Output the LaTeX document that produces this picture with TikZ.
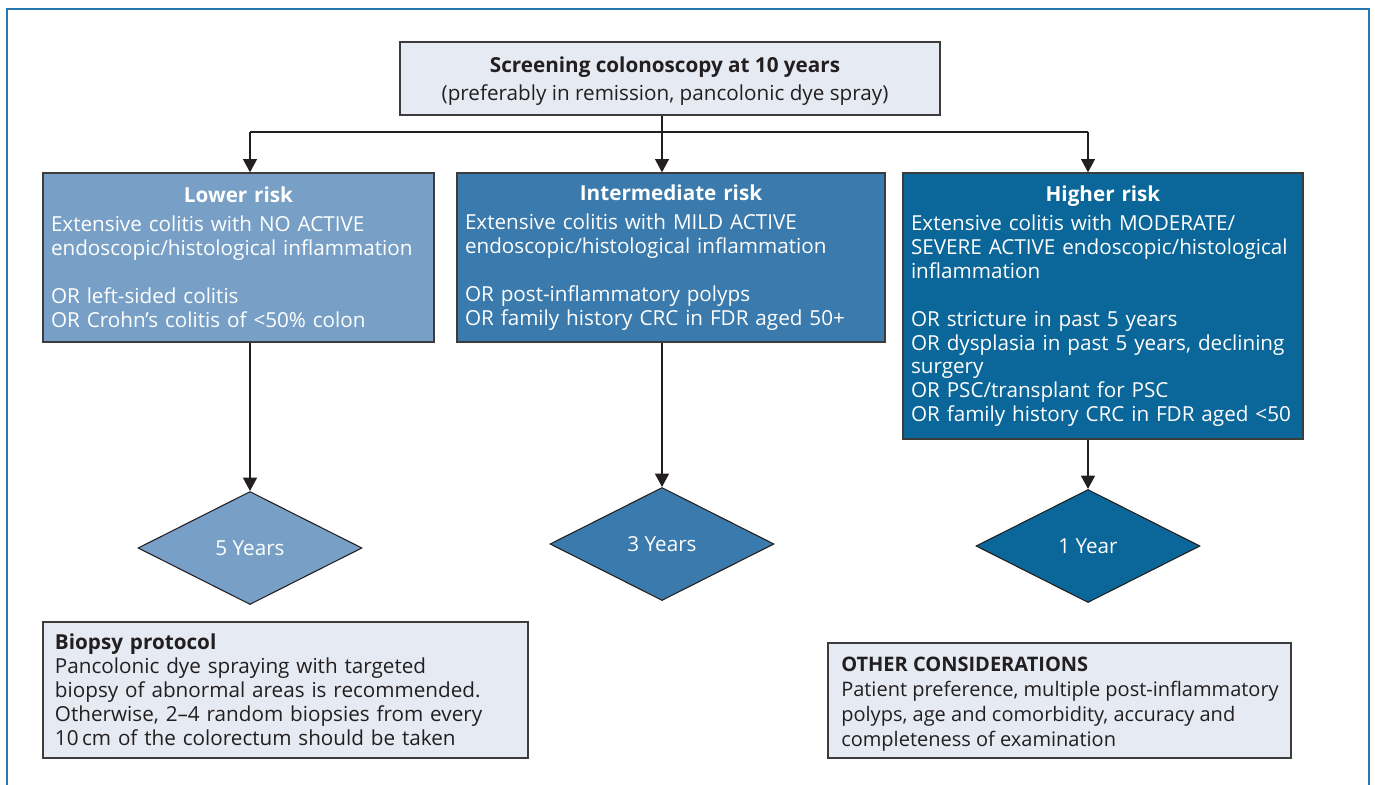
\documentclass[tikz,border=0pt]{standalone}
\usepackage{fontspec}
\setmainfont{Open Sans}
\usetikzlibrary{shapes.geometric,arrows.meta}
\definecolor{framec}{RGB}{40,120,175}
\definecolor{lowc}{RGB}{120,160,198}
\definecolor{midc}{RGB}{58,122,172}
\definecolor{highc}{RGB}{11,103,153}
\definecolor{lightc}{RGB}{229,234,243}
\definecolor{edgec}{RGB}{60,60,60}
\definecolor{textc}{RGB}{35,31,32}
\newcommand{\riskhead}[1]{{\centering\bfseries #1\par}\vspace{3.5pt}}
\begin{document}
\begin{tikzpicture}[x=0.75pt,y=-0.75pt,
  every node/.style={font=\fontsize{15.5}{18}\selectfont},
  boxbase/.style={draw=edgec,line width=1pt,rectangle,inner xsep=6pt,inner ysep=0pt},
  riskbox/.style={boxbase,text=white,align=left},
  lightbox/.style={boxbase,fill=lightc,text=textc,align=left},
  yearbox/.style={draw=textc,line width=0.8pt,shape=diamond,inner sep=0pt,text=white,minimum width=168pt,minimum height=84.75pt},
  conn/.style={draw=textc,line width=1pt},
  arr/.style={conn,-{Triangle[width=10.5pt,length=10pt]}}]
\useasboundingbox (0,0) rectangle (1375,785);
\draw[framec,line width=1.2pt] (7,800) -- (7,9) -- (1369,9) -- (1369,800);

\node[lightbox,minimum width=405pt,minimum height=54.75pt] (top) at (670,78.5) {};
\node[align=center,text=textc] (toptext) at (665,81.5)
  {\textbf{Screening colonoscopy at 10 years}\\[3pt](preferably in remission, pancolonic dye spray)};

\node[riskbox,fill=lowc,text width=281.25pt,minimum height=126.75pt] (low) at (238.5,257.5)
  {\riskhead{Lower risk}
   Extensive colitis with NO ACTIVE\\
   endoscopic/histological inflammation\\[18pt]
   OR left-sided colitis\\
   OR Crohn’s colitis of <50\% colon};

\node[riskbox,fill=midc,text width=309pt,minimum height=126.75pt] (mid) at (671,257.5)
  {\riskhead{Intermediate risk}
   Extensive colitis with MILD ACTIVE\\
   endoscopic/histological inflammation\\[18pt]
   OR post-inflammatory polyps\\
   OR family history CRC in FDR aged 50+};

\node[riskbox,fill=highc,text width=288pt,minimum height=199.5pt] (high) at (1103,306)
  {\riskhead{Higher risk}
   Extensive colitis with MODERATE/\\
   SEVERE ACTIVE endoscopic/histological\\
   inflammation\\[18pt]
   OR stricture in past 5 years\\
   OR dysplasia in past 5 years, declining\\[-1pt]
   surgery\\
   OR PSC/transplant for PSC\\
   OR family history CRC in FDR aged <50};

\node[yearbox,fill=lowc] (d1) at (250,548) {\raisebox{-1pt}{5 Years}};
\node[yearbox,fill=midc] (d2) at (662,544) {\raisebox{-1pt}{3 Years}};
\node[yearbox,fill=highc] (d3) at (1088,546) {\raisebox{-1pt}{1 Year}};

\node[lightbox,inner xsep=9pt,text width=345.75pt,minimum height=102pt] (bio) at (285.5,690)
  {\textbf{Biopsy protocol}\\
   Pancolonic dye spraying with targeted\\
   biopsy of abnormal areas is recommended.\\
   Otherwise, 2–4 random biopsies from every\\
   \mbox{10\,cm of the colorectum should be taken}};

\node[lightbox,minimum width=347.25pt,minimum height=86.25pt] (oth) at (1059.5,700.5) {};
\node[anchor=west,align=left,text=textc,inner sep=0pt,
      font=\fontsize{15}{18.75}\selectfont] (othtext) at (841,704)
  {\textbf{OTHER CONSIDERATIONS}\\
   Patient preference, multiple post-inflammatory\\
   polyps, age and comorbidity, accuracy and\\
   completeness of examination};

\coordinate (split) at (662,132);
\draw[conn] (top.south -| split) -- (split);
\draw[conn] (split -| d1) -- (split -| d3);
\draw[arr] (split -| d1) -- (low.north -| d1);
\draw[arr] (split) -- (mid.north -| split);
\draw[arr] (split -| d3) -- (high.north -| d3);
\draw[arr] (low.south -| d1) -- (d1.north);
\draw[arr] (mid.south -| d2) -- (d2.north);
\draw[arr] (high.south -| d3) -- (d3.north);
\end{tikzpicture}
\end{document}
